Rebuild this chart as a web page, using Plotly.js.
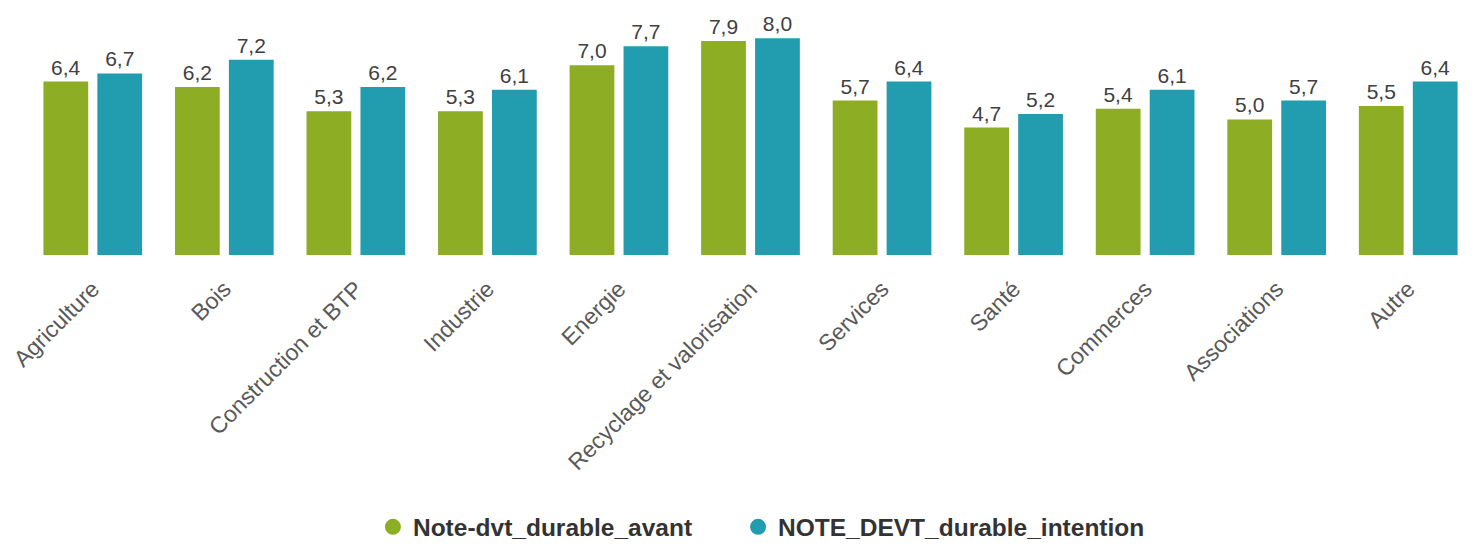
<!DOCTYPE html>
<html>
<head>
<meta charset="utf-8">
<script src="https://cdn.plot.ly/plotly-3.0.1.min.js"></script>
<style>html,body{margin:0;padding:0;background:#fff;}#chart{width:1477px;height:550px;}</style>
</head>
<body>
<div id="chart"></div>
<script>
const categories = ["Agriculture", "Bois", "Construction et BTP", "Industrie", "Energie", "Recyclage et valorisation", "Services", "Santé", "Commerces", "Associations", "Autre"];
const avant = [6.4, 6.2, 5.3, 5.3, 7.0, 7.9, 5.7, 4.7, 5.4, 5.0, 5.5];
const intention = [6.7, 7.2, 6.2, 6.1, 7.7, 8.0, 6.4, 5.2, 6.1, 5.7, 6.4];
const seriesNames = ["Note-dvt_durable_avant", "NOTE_DEVT_durable_intention"];
const colors = ["#8cad24", "#219daf"];

const font = "Liberation Sans, Arial, sans-serif";
function barTrace(vals, i) {
  return {
    type: "bar", x: categories, y: vals, name: seriesNames[i],
    marker: {color: colors[i]}, showlegend: false,
    texttemplate: "%{y:.1f}", textposition: "outside", cliponaxis: false,
    constraintext: "none",
    textfont: {family: font, size: 21, color: "#404040"},
    hoverinfo: "x+y"
  };
}
function legendTrace(i, leg) {
  return {type: "scatter", mode: "markers", x: [null], y: [null], name: seriesNames[i],
    marker: {color: colors[i], size: 16, symbol: "circle"}, showlegend: true,
    legend: leg, hoverinfo: "skip"};
}
const data = [barTrace(avant, 0), barTrace(intention, 1), legendTrace(0, "legend"), legendTrace(1, "legend2")];
const legendFont = {family: font, size: 24.5, color: "#333333", weight: "bold"};
const layout = {
  width: 1477, height: 550,
  margin: {l: 27, r: 3, t: 10, b: 295},
  paper_bgcolor: "#ffffff", plot_bgcolor: "#ffffff",
  separators: ",.",
  barmode: "group", bargap: 0.18, bargroupgap: 0.17,
  xaxis: {type: "category", tickangle: -45, showgrid: false, zeroline: false, showline: false,
    ticks: "", ticklabelstandoff: 15, tickfont: {family: font, size: 23, color: "#595959"}},
  yaxis: {range: [0, 9.04], visible: false, showgrid: false, zeroline: false},
  showlegend: true,
  legend: {orientation: "h", xref: "container", x: 0.2525, xanchor: "left", yref: "container", y: 0.042, yanchor: "middle",
    font: legendFont, bgcolor: "rgba(0,0,0,0)"},
  legend2: {orientation: "h", xref: "container", x: 0.4997, xanchor: "left", yref: "container", y: 0.042, yanchor: "middle",
    font: legendFont, bgcolor: "rgba(0,0,0,0)"},
  font: {family: font}
};
Plotly.newPlot("chart", data, layout, {displayModeBar: false, staticPlot: true});
</script>
</body>
</html>
